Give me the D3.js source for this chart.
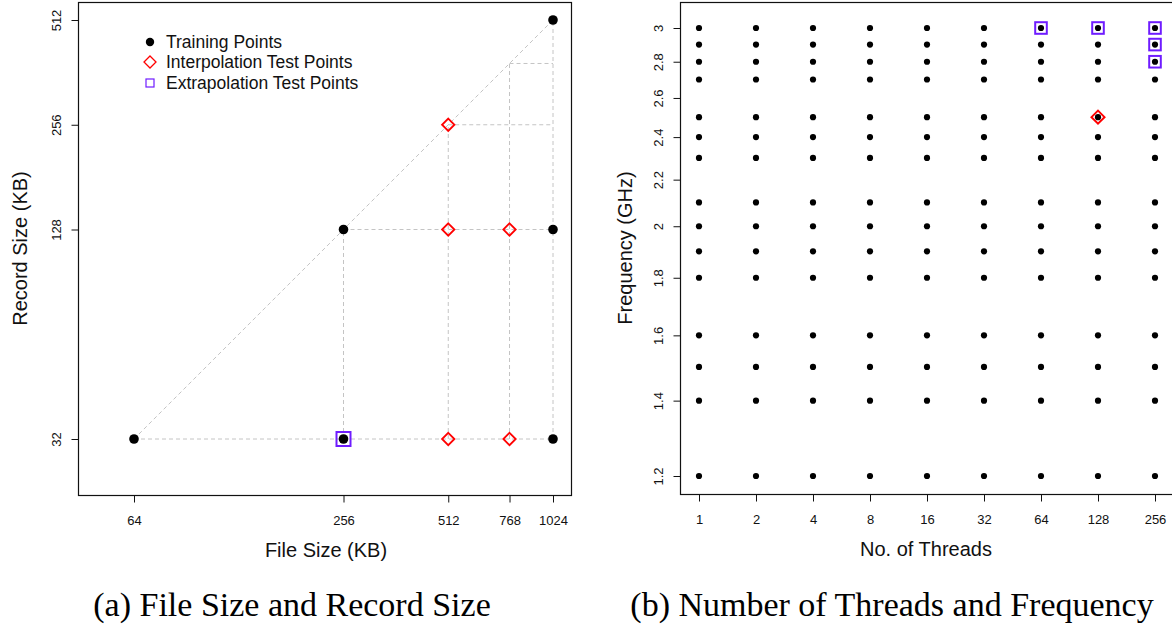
<!DOCTYPE html>
<html>
<head>
<meta charset="utf-8">
<script src="https://cdn.jsdelivr.net/npm/d3@7"></script>
<style>
  body { margin: 0; background: #fff; }
  text { font-family: "Liberation Sans", Arial, sans-serif; fill: #111; }
  text.caption { font-family: "Liberation Serif", "DejaVu Serif", serif; fill: #000; }
</style>
</head>
<body>
<div class="content"></div>
<script>
// left panel: file size vs record size
const fileTicks = [64, 256, 512, 768, 1024]
const recordTicks = [32, 128, 256, 512]
const trainFile = [64, 256, 1024, 256, 1024, 1024]
const trainRecord = [32, 32, 32, 128, 128, 512]
const interpFile = [512, 512, 768, 512, 768]
const interpRecord = [256, 128, 128, 32, 32]
const extrapFile = [256]
const extrapRecord = [32]
const guideFile = [256, 512, 768, 1024]

// right panel: threads vs frequency
const threads = [1, 2, 4, 8, 16, 32, 64, 128, 256]
const freqs = [1.2, 1.4, 1.5, 1.6, 1.8, 1.9, 2.0, 2.1, 2.3, 2.4, 2.5, 2.7, 2.8, 2.9, 3.0]
const freqTicks = [1.2, 1.4, 1.6, 1.8, 2, 2.2, 2.4, 2.6, 2.8, 3]
const interpThreads = [128]
const interpFreq = [2.5]
const extrapThreads = [64, 128, 256, 256, 256]
const extrapFreq = [3, 3, 3, 2.9, 2.8]

const legendLabels = ['Training Points', 'Interpolation Test Points', 'Extrapolation Test Points']
const captions = ['(a) File Size and Record Size', '(b) Number of Threads and Frequency']

const red = '#ff0000'
const violet = '#6f1cff'
const guideGrey = '#c4c4c4'

const svg = d3.select('div.content')
    .append('svg')
    .attr('width', 1172)
    .attr('height', 629)

svg.append('rect').attr('width', 1172).attr('height', 629).attr('fill', '#fff')

function diamond(g, x, y, r, w) {
    g.append('path')
        .attr('d', `M${x},${y - r}L${x + r},${y}L${x},${y + r}L${x - r},${y}Z`)
        .attr('fill', 'none')
        .attr('stroke', red)
        .attr('stroke-width', w)
}

function square(g, x, y, h, w) {
    g.append('rect')
        .attr('x', x - h).attr('y', y - h)
        .attr('width', 2 * h).attr('height', 2 * h)
        .attr('fill', 'none')
        .attr('stroke', violet)
        .attr('stroke-width', w)
}

function frame(box) {
    svg.append('rect')
        .attr('x', box.x0 + 0.5).attr('y', box.y0 + 0.5)
        .attr('width', box.x1 - box.x0).attr('height', box.y1 - box.y0)
        .attr('fill', 'none')
        .attr('stroke', '#111')
        .attr('stroke-width', 1.2)
}

function axes(box, x, y, xTicks, yTicks, yFmt) {
    const xa = svg.append('g')
        .attr('transform', `translate(0,${box.y1 + 0.5})`)
        .call(d3.axisBottom(x).tickValues(xTicks).tickSize(7).tickSizeOuter(0).tickPadding(13).tickFormat(d3.format('d')))
    xa.select('.domain').remove()
    xa.selectAll('line').attr('stroke', '#111')
    xa.selectAll('text').attr('font-size', 13).attr('fill', '#222')

    const ya = svg.append('g')
        .attr('transform', `translate(${box.x0 + 0.5},0)`)
        .call(d3.axisLeft(y).tickValues(yTicks).tickSize(7).tickSizeOuter(0).tickFormat(yFmt))
    ya.select('.domain').remove()
    ya.selectAll('line').attr('stroke', '#111')
    ya.selectAll('text')
        .attr('x', null).attr('dy', null)
        .attr('text-anchor', 'middle')
        .attr('transform', 'translate(-18,0) rotate(-90)')
        .attr('font-size', 13).attr('fill', '#222')
}

// ---------- panel (a) ----------
const boxA = {x0: 78, x1: 571, y0: 2, y1: 495}
const xA = d3.scaleLog().base(2).domain([64, 1024]).range([134, 553])
const yA = d3.scaleLog().base(2).domain([32, 512]).range([439, 20])

const guides = svg.append('g')
    .attr('fill', 'none')
    .attr('stroke', guideGrey)
    .attr('stroke-width', 1)
    .attr('stroke-dasharray', '4,3')
const fMin = d3.min(trainFile), fMax = d3.max(trainFile)
const rMin = d3.min(trainRecord), rMax = d3.max(trainRecord)
guides.append('line')
    .attr('x1', xA(fMin)).attr('y1', yA(rMin))
    .attr('x2', xA(fMax)).attr('y2', yA(rMax))
guides.append('line')
    .attr('x1', xA(fMin)).attr('y1', yA(rMin))
    .attr('x2', xA(fMax)).attr('y2', yA(rMin))
guideFile.forEach(f => {
    const r = f * rMax / fMax
    guides.append('line')
        .attr('x1', xA(f)).attr('y1', yA(rMin))
        .attr('x2', xA(f)).attr('y2', yA(r))
    guides.append('line')
        .attr('x1', xA(f)).attr('y1', yA(r))
        .attr('x2', xA(fMax)).attr('y2', yA(r))
})

frame(boxA)
axes(boxA, xA, yA, fileTicks, recordTicks, d3.format('d'))

const ptsA = svg.append('g')
trainFile.forEach((f, i) => {
    ptsA.append('circle').attr('cx', xA(f)).attr('cy', yA(trainRecord[i])).attr('r', 4.8).attr('fill', '#000')
})
interpFile.forEach((f, i) => diamond(ptsA, xA(f), yA(interpRecord[i]), 6.2, 1.8))
extrapFile.forEach((f, i) => square(ptsA, xA(f), yA(extrapRecord[i]), 7, 2))

// legend
const leg = svg.append('g')
const legY = [42, 62, 83]
leg.append('circle').attr('cx', 150).attr('cy', legY[0]).attr('r', 4.2).attr('fill', '#000')
diamond(leg, 150, legY[1], 6, 1.3)
square(leg, 150, legY[2], 4, 1.2)
legendLabels.forEach((t, i) => {
    leg.append('text').attr('x', 166).attr('y', legY[i]).attr('dy', '0.35em')
        .attr('font-size', 17.5).text(t)
})

svg.append('text').attr('x', 326).attr('y', 557)
    .attr('text-anchor', 'middle').attr('font-size', 20).text('File Size (KB)')
svg.append('text')
    .attr('transform', `translate(27,${(boxA.y0 + boxA.y1) / 2}) rotate(-90)`)
    .attr('text-anchor', 'middle').attr('font-size', 20).text('Record Size (KB)')

// ---------- panel (b) ----------
const boxB = {x0: 680, x1: 1174, y0: 2, y1: 494}
const xB = d3.scaleLog().base(2).domain([1, 256]).range([699, 1155])
const yB = d3.scaleLog().domain([1.2, 3]).range([476, 28])

frame(boxB)
axes(boxB, xB, yB, threads, freqTicks, d3.format('~g'))

const ptsB = svg.append('g')
threads.forEach(t => {
    freqs.forEach(f => {
        ptsB.append('circle').attr('cx', xB(t)).attr('cy', yB(f)).attr('r', 3.1).attr('fill', '#000')
    })
})
interpThreads.forEach((t, i) => diamond(ptsB, xB(t), yB(interpFreq[i]), 6.5, 2))
extrapThreads.forEach((t, i) => square(ptsB, xB(t), yB(extrapFreq[i]), 5.8, 2))

svg.append('text').attr('x', 926).attr('y', 556)
    .attr('text-anchor', 'middle').attr('font-size', 20).text('No. of Threads')
svg.append('text')
    .attr('transform', `translate(632,${(boxB.y0 + boxB.y1) / 2}) rotate(-90)`)
    .attr('text-anchor', 'middle').attr('font-size', 20).text('Frequency (GHz)')

// captions
svg.selectAll('text.caption')
    .data(captions)
    .join('text')
    .attr('class', 'caption')
    .attr('x', (d, i) => i === 0 ? 292 : 892)
    .attr('y', 616)
    .attr('text-anchor', 'middle')
    .attr('font-size', 34)
    .text(d => d)
</script>
</body>
</html>
